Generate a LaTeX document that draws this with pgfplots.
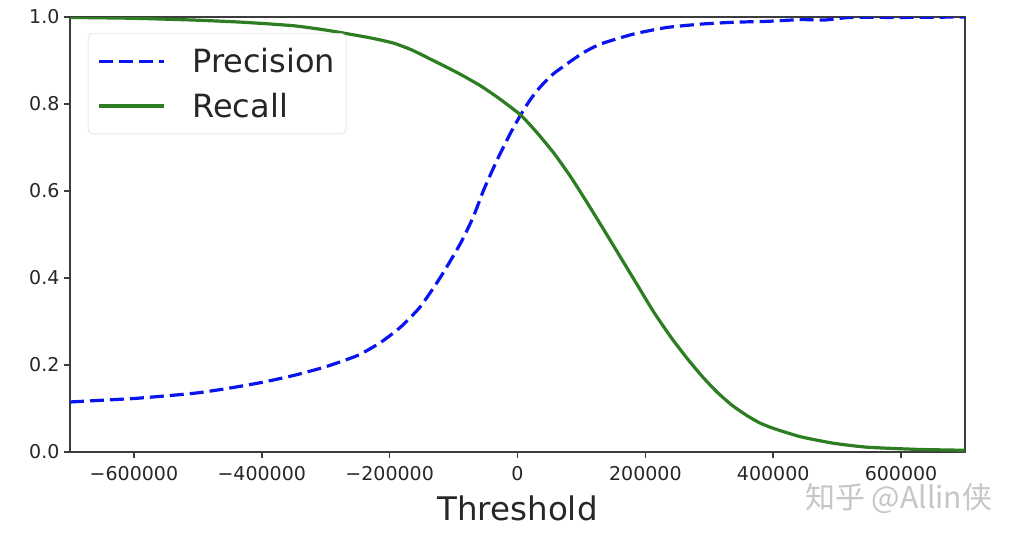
\documentclass[border=0pt]{standalone}
\usepackage{fontspec}
\setmainfont{DejaVu Sans}
\newfontfamily\cjk{Noto Sans CJK SC}
\usepackage{pgfplots}
\pgfplotsset{compat=1.18}
\definecolor{mplblue}{RGB}{10,20,240}
\definecolor{mplgreen}{RGB}{45,125,35}
\definecolor{axisgray}{RGB}{60,60,60}
\begin{document}
\begin{tikzpicture}
\path[use as bounding box] (-70pt,-90pt) rectangle (952pt,452pt);
\begin{axis}[
  at={(0pt,0pt)}, anchor=south west,
  scale only axis, width=895pt, height=435pt,
  xmin=-700000, xmax=700000, ymin=0, ymax=1,
  axis line style={axisgray, line width=1.5pt},
  tick style={axisgray, line width=1.5pt},
  major tick length=6pt,
  tick align=outside, tick pos=left,
  xtick={-600000,-400000,-200000,0,200000,400000,600000},
  xticklabels={−600000,−400000,−200000,0,200000,400000,600000},
  ytick={0,0.2,0.4,0.6,0.8,1.0},
  yticklabels={0.0,0.2,0.4,0.6,0.8,1.0},
  scaled x ticks=false,
  ticklabel style={font=\fontsize{19}{23}\selectfont, text=black!85},
  xticklabel style={yshift=-5pt},
  yticklabel style={xshift=-1pt},
  xlabel={Threshold},
  xlabel style={font=\fontsize{32.5}{38}\selectfont, text=black!85, yshift=-8pt},
  legend style={at={(rel axis cs:0.0201,0.963)}, anchor=north west,
    draw=gray!35, rounded corners=5pt, fill=white,
    font=\fontsize{32}{38}\selectfont, text=black!85,
    inner xsep=9pt, inner ysep=13pt, row sep=15pt, column sep=25pt,
    cells={anchor=west}},
  legend image code/.code={\draw[#1] (0pt,0pt) -- (65pt,0pt);},
]
\addplot[mplblue, line width=3.2pt, dash pattern=on 14pt off 6pt, smooth, tension=0.35] coordinates {
(-700000,0.115) (-650000,0.119) (-600000,0.123) (-550000,0.129) (-500000,0.136)
(-450000,0.147) (-400000,0.160) (-350000,0.176) (-300000,0.196) (-250000,0.222)
(-214000,0.252) (-183000,0.287) (-152000,0.334) (-120000,0.403) (-89000,0.480)
(-69000,0.541) (-53000,0.602) (-32000,0.671) (-11000,0.733) (5000,0.775)
(20000,0.810) (36000,0.840) (55000,0.868) (78000,0.893) (103000,0.918) (130000,0.938) (182000,0.961) (234000,0.976)
(290000,0.984) (339000,0.988) (390000,0.990) (443000,0.994) (480000,0.993)
(521000,0.999) (600000,0.999) (700000,1.0)
};
\addlegendentry{Precision}
\addplot[mplgreen, line width=3.2pt, smooth, tension=0.35] coordinates {
(-700000,0.999) (-600000,0.997) (-507000,0.993) (-430000,0.988) (-351000,0.980)
(-300000,0.970) (-272000,0.963) (-230000,0.952) (-194000,0.940) (-165000,0.924) (-136000,0.903)
(-110000,0.884) (-89000,0.868) (-58000,0.842) (-30000,0.814) (4700,0.775) (30000,0.735) (56900,0.687)
(83000,0.633) (109000,0.573) (135000,0.511) (161000,0.448) (187000,0.385) (213000,0.322) (240000,0.264)
(266000,0.214) (290000,0.172) (312700,0.137) (336000,0.107) (359700,0.083) (380000,0.066)
(401000,0.054) (443000,0.035) (495000,0.020) (547600,0.011) (626000,0.006) (700000,0.004)
};
\addlegendentry{Recall}
\end{axis}
\node[anchor=west, inner sep=0pt, text=gray!45, font=\cjk\fontsize{30}{36}\selectfont] at (735pt,-46pt) {知乎 @Allin侠};
\end{tikzpicture}
\end{document}
